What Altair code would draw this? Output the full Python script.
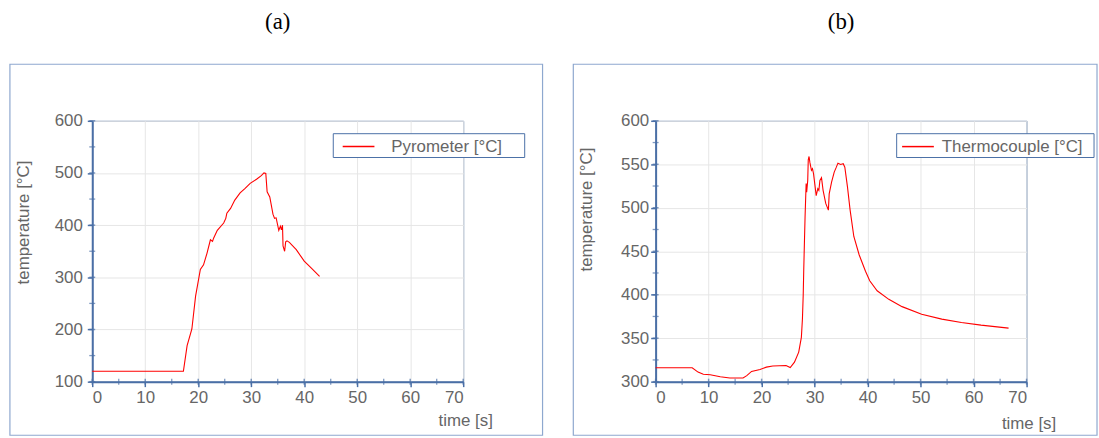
import altair as alt
import pandas as pd

# ---------------- data ----------------
pyro_time = [0, 17.2, 17.9, 18.8, 19.5, 20.4, 21.0, 21.65, 22.3, 22.7, 22.9, 23.6, 24.8,
             25.2, 25.4, 26.1, 26.9, 27.9, 28.8, 29.8, 31.0, 31.9, 32.4, 32.75, 33.0,
             33.5, 34.1, 34.4, 34.7, 35.2, 35.5, 35.7, 35.9, 36.0, 36.3, 36.5, 36.75,
             37.2, 38.5, 40.0, 41.3, 42.9]
pyro_temp = [120, 120, 169, 201, 264, 315, 324, 346, 372, 369, 375, 390, 404,
             413, 423, 432, 448, 462, 470, 480, 488, 495, 500, 499, 464,
             454, 421, 413, 414, 390, 398, 391, 400, 360, 350, 368, 370,
             367, 353, 331, 318, 302]

thermo_time = [0, 6.9, 8.0, 9.0, 10.3, 12.2, 14.0, 16.5, 17.2, 18.1, 19.7, 20.9, 22.1,
               24.6, 25.4, 26.2, 27.0, 27.5, 27.7, 27.85, 27.95, 28.2, 28.4, 28.5,
               28.7, 28.8, 28.95, 29.1, 29.4, 29.6, 29.8, 30.3, 30.6, 30.8, 31.0,
               31.3, 31.6, 32.1, 32.6, 32.75, 33.2, 33.7, 34.1, 34.4, 34.9, 35.4,
               35.7, 36.2, 36.7, 37.4, 38.4, 39.6, 40.4, 41.8, 44.0, 46.5, 50.2,
               54.0, 57.7, 61.4, 66.6]
thermo_temp = [316, 316, 311, 308.5, 308, 305.7, 304.3, 304.2, 307, 311.8, 314, 316.7, 318,
               318.6, 316.3, 322.5, 334, 351, 372, 400, 429, 490, 528, 518,
               531.5, 555, 559, 552.4, 543, 545, 539, 514, 522, 520, 531.5,
               534.6, 520, 505, 497.3, 516, 529.6, 541, 546.7, 551.3, 549.8, 550.6,
               546.7, 524, 497.3, 467, 446, 427, 416, 404.5, 394.7, 386.3, 377.6,
               371.9, 368, 365, 361.6]

x_major = [0, 10, 20, 30, 40, 50, 60, 70]
x_minor = [5, 15, 25, 35, 45, 55, 65]
pyro_y_major = [100, 200, 300, 400, 500, 600]
pyro_y_minor = [150, 250, 350, 450, 550]
thermo_y_major = [300, 350, 400, 450, 500, 550, 600]
thermo_y_minor = [325, 375, 425, 475, 525, 575]

# ---------------- styling ----------------
AXIS_BLUE = "#4a6fa6"
FRAME_BLUE = "#8ea8cf"
GRID = "#e6e6e6"
TEXT = "#666666"
FONT = "Liberation Sans"
W, H = 374, 263


def panel(times, temps, name, tag, y_domain, y_major, y_minor,
          ytitle_x, ytitle_y, ylabel_pad, xtitle_y, sym_off, lab_off, frame_right, box_right):
    df = pd.DataFrame({"t": times, "T": temps, "series": name})

    x_enc = alt.X("t:Q",
                  scale=alt.Scale(domain=[0, 70], nice=False, zero=False),
                  axis=alt.Axis(values=x_major, title="time [s]", grid=True,
                                labelPadding=3, titleX=376, titleY=xtitle_y,
                                titleAlign="center", titleBaseline="middle"))
    y_enc = alt.Y("T:Q",
                  scale=alt.Scale(domain=y_domain, nice=False, zero=False),
                  axis=alt.Axis(values=y_major, title="temperature [°C]", grid=True,
                                labelPadding=ylabel_pad, titleX=ytitle_x, titleY=ytitle_y,
                                titleAlign="center", titleBaseline="middle", titleAngle=-90))

    line = alt.Chart(df).mark_line(strokeWidth=1.1).encode(
        x=x_enc, y=y_enc,
        color=alt.Color("series:N",
                        scale=alt.Scale(domain=[name], range=["#ff0000"]),
                        legend=alt.Legend(title=None, orient="none", legendX=243, legendY=5.5,
                                          padding=3.5, symbolType="stroke", symbolSize=1024,
                                          symbolStrokeWidth=1.5, symbolOffset=sym_off,
                                          labelOffset=lab_off, labelFont=FONT,
                                          labelFontSize=17, labelColor=TEXT)),
    )

    # small ticks crossing the axes (minor) and inward part of major ticks
    xt = pd.DataFrame({"t": x_minor, "T": [y_domain[0]] * len(x_minor)})
    xM = pd.DataFrame({"t": x_major, "T": [y_domain[0]] * len(x_major)})
    yt = pd.DataFrame({"t": [0] * len(y_minor), "T": y_minor})
    yM = pd.DataFrame({"t": [0] * len(y_major), "T": y_major})
    tick_x_minor = alt.Chart(xt).mark_tick(orient="vertical", size=6, thickness=1.3,
                                           color=AXIS_BLUE).encode(x=x_enc, y=y_enc)
    tick_x_major = alt.Chart(xM).mark_tick(orient="vertical", size=6, thickness=1.5,
                                           color=AXIS_BLUE).encode(x=x_enc, y=y_enc)
    tick_y_minor = alt.Chart(yt).mark_tick(orient="horizontal", size=6, thickness=1.3,
                                           color=AXIS_BLUE).encode(x=x_enc, y=y_enc)
    tick_y_major = alt.Chart(yM).mark_tick(orient="horizontal", size=6, thickness=1.5,
                                           color=AXIS_BLUE).encode(x=x_enc, y=y_enc)

    one = pd.DataFrame({"k": [0]})
    frame = alt.Chart(one).mark_rect(fillOpacity=0, stroke=FRAME_BLUE, strokeWidth=1.2).encode(
        x=alt.value(-83), x2=alt.value(frame_right),
        y=alt.value(-57), y2=alt.value(317))
    # white legend box (legend symbol and label are drawn on top of it)
    box = alt.Chart(one).mark_rect(fill="white", stroke=AXIS_BLUE, strokeWidth=1).encode(
        x=alt.value(243), x2=alt.value(box_right),
        y=alt.value(13), y2=alt.value(37))
    label = alt.Chart(one).mark_text(font="Liberation Serif", fontSize=23, color="black",
                                     align="center", baseline="middle").encode(
        x=alt.value(187), y=alt.value(-100), text=alt.value(tag))

    return alt.layer(frame, line, tick_x_minor, tick_x_major, tick_y_minor, tick_y_major,
                     box, label).properties(width=W, height=H)


left = panel(pyro_time, pyro_temp, "Pyrometer [°C]", "(a)", [100, 600],
             pyro_y_major, pyro_y_minor, -69, 102, 5, 39, 5, 16, 454, 436)
right = panel(thermo_time, thermo_temp, "Thermocouple [°C]", "(b)", [300, 600],
              thermo_y_major, thermo_y_minor, -70, 89, 2, 42, 1, 7, 445, 442)

chart = alt.hconcat(left, right, spacing=27).resolve_scale(
    color="independent"
).resolve_legend(
    color="independent"
).properties(
    padding={"left": 8, "top": 8, "right": 0, "bottom": 0}
).configure_view(
    stroke=AXIS_BLUE, strokeWidth=1
).configure_axis(
    gridColor=GRID, gridWidth=1,
    domainColor=AXIS_BLUE, domainWidth=2,
    tickColor=AXIS_BLUE, tickWidth=1.5, tickSize=5,
    labelFont=FONT, labelFontSize=17, labelColor=TEXT,
    titleFont=FONT, titleFontSize=17, titleColor=TEXT, titleFontWeight="normal",
)

chart.save("out.html", embed_options={"renderer": "svg", "actions": False})
